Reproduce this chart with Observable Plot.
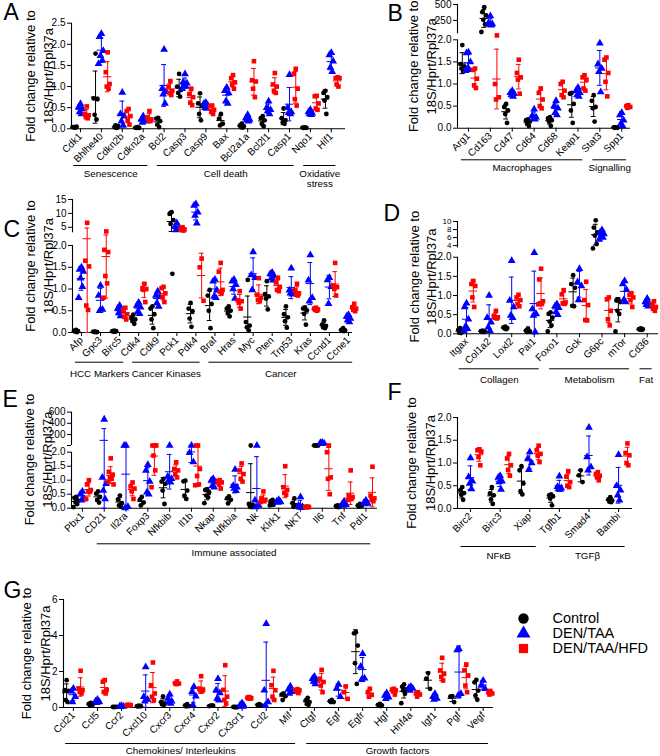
<!DOCTYPE html>
<html><head><meta charset="utf-8">
<script src="https://cdn.jsdelivr.net/npm/d3@7"></script>
<script src="https://cdn.jsdelivr.net/npm/@observablehq/plot@0.6"></script>
<style>
html,body{margin:0;padding:0;background:#fff;}
#chart{position:relative;width:660px;height:756px;overflow:hidden;font-family:Arial,"Liberation Sans",Helvetica,sans-serif;}
#chart svg{position:absolute;}
</style></head><body><div id="chart"></div>
<script>
// ---------- Panel A ----------
const genesA = ["Cdk1","Bhlhe40","Cdkn2b","Cdkn2a","Bcl2","Casp3","Casp9","Bax","Bcl2a1a","Bcl2l1","Casp1","Nqo1","Hif1"];
const ctrlA = [[0.03,0.04,0.05,0.04,0.03],[1.78,0.72,0.70,0.33,0.22],[0.02,0.04,0.06,0.08,0.03],[0.04,0.03,0.02,0.02,0.03],[0.26,0.24,0.18,0.10,0.04],[1.30,1.00,0.92,0.85,0.76],[0.84,0.60,0.55,0.35,0.20],[0.35,0.24,0.12,0.08],[0.12,0.08,0.06,0.04,0.03],[0.30,0.25,0.20,0.12,0.06],[0.48,0.25,0.20,0.15,0.12],[0.03,0.03,0.02,0.02,0.03],[0.90,0.85,0.75,0.67,0.35]];
const denA = [[0.59,0.51,0.47,0.40,0.35],[2.25,2.18,1.85,1.73,1.62,1.54],[0.86,0.35,0.30,0.18,0.08],[0.30,0.22,0.18,0.15,0.20],[1.88,0.95,0.88,0.82,0.60],[1.30,1.10,1.08,1.05,1.00,0.95],[0.62,0.60,0.55,0.50,0.48],[0.98,0.90,0.85,0.65,0.60],[0.33,0.25,0.22,0.20,0.18],[0.65,0.50,0.45,0.42,0.35],[1.28,0.50,0.40,0.38,0.35],[0.45,0.40,0.37,0.35,0.33],[1.80,1.75,1.60,1.45,1.35]];
const hfdA = [[0.53,0.35,0.32,0.28,0.25],[1.81,1.34,1.06,1.00,0.95],[0.47,0.42,0.30,0.20,0.10],[0.42,0.27,0.22,0.20,0.18],[1.13,1.00,0.90,0.85,0.80],[0.95,0.82,0.75,0.62,0.56],[0.55,0.54,0.45,0.40,0.35],[1.27,1.20,1.10,1.05,0.95],[1.60,1.15,1.12,0.95,0.75],[1.32,1.05,1.00,0.90,0.85],[1.42,1.30,0.95,0.70,0.55],[0.78,0.77,0.60,0.48,0.45],[1.22,1.20,1.20,1.05,1.00]];
const ticksA = [0,0.5,1,1.5,2,2.5];
const tickLabelsA = ["0.0","0.5","1.0","1.5","2.0","2.5"];
const groupsA = [{label:"Senescence",from:"Cdk1",to:"Cdkn2a"},{label:"Cell death",from:"Bcl2",to:"Casp1"},{label:"Oxidative\nstress",from:"Nqo1",to:"Hif1"}];

// ---------- Panel B ----------
const genesB = ["Arg1","Cd163","Cd47","Cd64","Cd68","Keap1","Stat3","Spp1"];
const ctrlB = [[1.88,1.45,1.40,1.35,1.28],[458,380,328,260,188,68],[0.55,0.48,0.40,0.32,0.12],[0.20,0.18,0.15,0.10,0.05],[0.25,0.22,0.18,0.15,0.05],[0.80,0.78,0.55,0.40,0.12],[0.75,0.62,0.48,0.45,0.15],[0.02,0.02,0.01,0.01]];
const denB = [[1.72,1.70,1.50,1.35,1.32,1.30],[320,210,195,185,175],[0.85,0.80,0.78,0.75,0.72],[0.43,0.28,0.25,0.22,0.20],[0.62,0.50,0.45,0.35,0.30],[0.92,0.85,0.80,0.75,0.72],[1.92,1.45,1.35,1.28,0.82],[0.35,0.30,0.18,0.10,0.05]];
const hfdB = [[1.35,1.32,1.12,0.97,0.91],[2.1,1.00,0.70,0.65],[1.55,1.25,1.15,1.10,0.78],[0.90,0.80,0.65,0.50,0.45],[1.05,1.00,0.85,0.75,0.70],[1.20,1.15,1.10,0.90,0.85],[1.60,1.55,1.25,1.05,0.72],[0.52,0.50,0.48,0.46]];
const ticksB = [0,0.5,1,1.5,2,250,500];
const tickLabelsB = ["0.0","0.5","1.0","1.5","2.0","250","500"];
const groupsB = [{label:"Macrophages",from:"Arg1",to:"Keap1"},{label:"Signalling",from:"Stat3",to:"Spp1"}];

// ---------- Panel C ----------
const genesC = ["Afp","Gpc3","Birc5","Cdk4","Cdk9","Pck1","Pdk4","Braf","Hras","Myc","Pten","Trp53","Kras","Ccnd1","Ccne1"];
const ctrlC = [[0.06,0.04,0.03,0.02,0.01],[0.02,0.02,0.01,0.01,0.01],[0.04,0.03,0.03,0.02,0.02],[0.41,0.35,0.30,0.27,0.20],[0.60,0.55,0.42,0.30,0.10],[10.4,9.8,7.6,6.2,1.35],[0.68,0.55,0.49,0.32,0.13],[0.98,0.85,0.66,0.50,0.10],[0.60,0.55,0.50,0.45,0.37],[1.21,0.24,0.16,0.12,0.05],[1.18,0.88,0.83,0.78,0.53],[0.60,0.42,0.35,0.26,0.11],[0.57,0.55,0.51,0.43,0.18],[0.28,0.18,0.15,0.12,0.10],[0.10,0.06,0.05,0.04,0.03]];
const denC = [[1.50,1.45,1.40,1.25,1.05,0.80],[1.08,0.85,0.53,0.50],[0.62,0.55,0.50,0.45,0.38],[0.69,0.62,0.58,0.48,0.43],[0.95,0.85,0.82,0.68,0.60],[6.5,5.2,4.6,4.0],[13.4,12.8,10.4,9.2,6.4],[1.22,1.18,0.97,0.83,0.80],[1.22,1.18,1.10,1.00,0.78],[1.85,1.32,1.26,0.98],[1.38,1.35,1.30,1.25,1.20],[1.48,0.97,0.93,0.90,0.88],[1.78,1.20,0.80,0.72],[1.26,1.21,1.05,0.66],[0.41,0.37,0.32,0.28,0.24]];
const hfdC = [[6.6,1.65,1.52,0.62,0.52],[3.5,1.90,1.85,1.30,1.13,0.80],[0.57,0.51,0.42,0.36,0.30],[1.12,1.02,1.00,0.98,0.70],[1.05,1.02,0.90,0.82,0.70],[5.0,4.5,4.2,4.0,3.8],[1.70,1.50,0.73],[1.60,1.40,0.98,0.94,0.90],[0.95,0.74,0.72,0.68,0.55],[1.25,0.87,0.80,0.75,0.72],[1.26,1.15,1.05,0.98,0.95],[1.12,0.97,0.90,0.87,0.85],[0.57,0.55,0.53,0.52,0.50],[1.60,1.08,1.04,1.00,0.85],[0.66,0.58,0.55,0.52,0.49]];
const ticksC = [0,0.5,1,1.5,2,5,10,15];
const tickLabelsC = ["0.0","0.5","1.0","1.5","2.0","5","10","15"];
const groupsC = [{label:"HCC Markers",from:"Afp",to:"Birc5"},{label:"Cancer Kinases",from:"Cdk4",to:"Pdk4"},{label:"Cancer",from:"Braf",to:"Ccne1"}];

// ---------- Panel D ----------
const genesD = ["Itgax","Col1a2","Loxl2","Pai1","Foxo1","Gck","G6pc","mTor","Cd36"];
const ctrlD = [[0.15,0.10,0.05,0.03,0.02],[0.08,0.07,0.06,0.05,0.05],[0.19,0.17,0.15,0.14,0.12],[0.14,0.08,0.06,0.05],[0.56,0.52,0.42,0.32,0.22,0.06],[1.53,1.30,1.20,0.73,0.72],[10.3,8.5,7.3,6.5,4.4,3.3],[0.90,0.87,0.83,0.60,0.52,0.06],[0.14,0.12,0.12,0.11,0.10]];
const denD = [[0.80,0.70,0.38,0.20,0.13,0.08],[1.00,0.42,0.30,0.17,0.08],[1.91,0.87,0.70,0.48,0.42],[2.25,0.65,0.52,0.48,0.05],[0.78,0.72,0.68,0.57,0.50],[1.70,1.35,1.25,0.88],[7.9,7.3,6.9,6.5,6.0,5.5],[1.38,1.30,1.15,0.88,0.83],[0.92,0.83,0.78,0.76,0.72]];
const hfdD = [[1.38,1.30,1.25,0.95,0.70],[0.60,0.47,0.43,0.42,0.40],[1.02,0.95,0.88,0.78,0.72],[1.70,1.42,0.85,0.80,0.78,0.77],[1.14,1.03,0.82,0.80,0.78],[1.36,0.88,0.75,0.36,0.35],[0.95,0.90,0.60,0.38,0.22],[1.06,1.02,0.95,0.88,0.70],[0.85,0.78,0.70,0.65,0.60]];
const ticksD = [0,0.5,1,1.5,2,4,6,8,10];
const tickLabelsD = ["0.0","0.5","1.0","1.5","2.0","4","6","8","10"];
const groupsD = [{label:"Collagen",from:"Itgax",to:"Pai1"},{label:"Metabolism",from:"Foxo1",to:"mTor"},{label:"Fat",from:"Cd36",to:"Cd36"}];

// ---------- Panel E ----------
const genesE = ["Pbx1","CD21","Il2ra","Foxp3","Nfkbib","Il1b","Nkap","Nfkbia","Nk","Klrk1","NKT","Il6","Tnf","Pdl1"];
const ctrlE = [[0.40,0.37,0.27,0.22,0.15,0.04],[0.60,0.52,0.40,0.30,0.20],[0.45,0.31,0.18,0.10,0.06],[0.40,0.30,0.20,0.10],[1.05,0.95,0.87,0.63,0.15],[0.98,0.96,0.63,0.45,0.33],[0.68,0.65,0.57,0.45,0.39,0.18],[0.42,0.35,0.30,0.17],[2.4,0.15,0.12,0.08,0.04],[0.30,0.25,0.20,0.15,0.12,0.10],[0.35,0.18,0.10,0.05],[2.4,2.4,2.4],[0.10,0.08,0.06,0.05,0.04],[0.15,0.10,0.08,0.06,0.08]];
const denE = [[0.60,0.52,0.33,0.28],[470,1.10,0.87,0.63,0.33],[2.4,2.4,0.05,0.01],[1.55,1.35,0.95,0.57,0.50],[2.4,1.13,1.05,1.00,0.93],[2.4,1.98,1.65],[1.05,1.00,0.93,0.80,0.75],[1.38,0.80,0.75,0.70,0.62],[2.4,0.28,0.10,0.04],[0.30,0.25,0.22,0.20],[0.40,0.10,0.05,0.03,0.02],[55,50,40,35],[0.25,0.15,0.12,0.10],[0.28,0.20,0.17,0.15]];
const hfdE = [[1.00,0.85,0.65,0.60,0.58,0.33],[1.78,1.30,1.20,1.10,1.05,0.95,0.85],[0.92,0.78,0.70,0.60,0.33],[2.4,2.4,2.4,1.88,1.35,0.75],[1.64,1.40,1.35,1.22,1.10],[2.4,2.4,1.40,1.15,0.85,0.82],[1.00,0.98,0.92,0.87,0.70],[1.60,1.35,1.22,1.05,0.95],[0.60,0.35,0.30,0.28,0.25,0.22],[1.50,0.75,0.65,0.55,0.48],[0.06,0.05,0.04,0.03,0.04],[2.4,2.0,1.10,1.05,0.50],[1.35,0.45,0.40,0.38,0.33,0.30],[1.48,0.45,0.35,0.30,0.25]];
const ticksE = [0,0.5,1,1.5,2,2.3,200,400,600];
const tickLabelsE = ["0.0","0.5","1.0","1.5","2.0","","200","400","600"];
const groupsE = [{label:"Immune associated",from:"CD21",to:"Pdl1"}];

// ---------- Panel F ----------
const genesF = ["Birc2","Birc3","Xiap","Tgfb1","Smad4","Bambi"];
const ctrlF = [[0.47,0.40,0.34,0.30,0.19],[0.47,0.33,0.29,0.20,0.10],[0.93,0.84,0.55,0.38,0.31],[0.31,0.29,0.27,0.22,0.07],[0.84,0.73,0.58],[0.25,0.20,0.18,0.15,0.14]];
const denF = [[1.11,0.69,0.60,0.55,0.43],[0.72,0.68,0.60,0.58,0.42],[1.24,1.10,1.00,0.85],[0.71,0.48,0.45,0.43,0.42],[1.78,1.13,0.91,0.84],[1.18,0.50,0.40,0.29,0.18]];
const hfdF = [[1.30,1.28,1.25,1.13,0.95],[1.20,1.10,0.95,0.85,0.72],[1.38,1.28,1.20,1.16,1.02],[0.82,0.70,0.58,0.50,0.47],[0.80,0.76,0.72,0.69,0.62],[1.43,1.22,1.17,1.00,0.95]];
const ticksF = [0,0.5,1,1.5,2];
const tickLabelsF = ["0.0","0.5","1.0","1.5","2.0"];
const groupsF = [{label:"NFκB",from:"Birc2",to:"Xiap"},{label:"TGFβ",from:"Tgfb1",to:"Bambi"}];

// ---------- Panel G ----------
const genesG = ["Ccl21","Ccl5","Ccr2","Cxcl10","Cxcr3","Cxcr4","Cxcr2","Cx3cr1","Ccl2","Mif","Ctgf","Egf","Egfr","Hgf","Hnf4a","Igf1","Pgf","Vegf"];
const ctrlG = [[1.52,0.96,0.92,0.41,0.30],[0.26,0.20,0.15,0.12],[0.04,0.03,0.03,0.02],[0.10,0.08,0.07,0.06],[0.62,0.30,0.22,0.18,0.15],[0.18,0.12,0.08,0.06],[0.12,0.08,0.10],[0.03,0.03,0.02,0.02,0.02],[0.18,0.15,0.12,0.12],[0.78,0.72,0.63,0.41],[0.54,0.40,0.30,0.20,0.15],[0.42,0.35,0.30,0.30],[4.18,4.12,3.44,2.46,1.31],[0.20,0.15,0.12,0.10,0.08],[1.28,1.15,1.00,0.94,0.76,0.24],[1.91,1.60,1.04],[0.63,0.60,0.30],[1.54,1.40,0.94,0.67,0.43]];
const denG = [[1.05,0.90,0.60,0.30],[0.44,0.35,0.30,0.26],[0.10,0.07,0.05,0.04],[2.25,0.60,0.45,0.35],[0.74,0.50,0.35,0.30,0.22],[1.15,0.87,0.63,0.13],[1.60,0.96,0.80,0.50,0.40],[0.25,0.15,0.10,0.07,0.05],[4.65,0.96,0.30,0.13],[1.18,1.00,0.87,0.78],[1.72,1.60,1.50,1.45,1.30],[1.28,1.05,0.60],[2.98,2.28,1.62,1.55],[0.80,0.67,0.57,0.48],[1.17,1.10,1.05,0.94],[0.76,0.60,0.50,0.45],[3.25,3.20,0.76,0.67],[1.50,1.22,1.04]];
const hfdG = [[2.04,1.05,0.96,0.87,0.78],[1.52,1.43,0.96,0.87,0.78],[0.15,0.14,0.13,0.12,0.12],[2.50,1.24,0.78,0.60,0.40],[1.45,1.35,1.33,1.30],[1.74,1.05,0.98,0.95,0.90],[2.35,0.98,0.60,0.42,0.22],[0.58,0.55,0.52,0.50,0.50],[2.04,1.24,0.96,0.60,0.42],[1.02,0.98,0.95,0.87,0.80],[2.09,1.60,1.42,1.22,0.85],[1.17,0.85,0.48],[1.04,0.85,0.70,0.60],[1.04,1.00,0.95,0.90,0.72],[0.85,0.78,0.72,0.60],[2.76,2.06,1.87,1.70,1.50],[2.39,2.06,1.78,1.22,0.85],[0.92,0.85,0.78,0.72]];
const ticksG = [0,2,4,6];
const tickLabelsG = ["0","2","4","6"];
const groupsG = [{label:"Chemokines/ Interleukins",from:"Ccl21",to:"Mif"},{label:"Growth factors",from:"Ctgf",to:"Vegf"}];

// ---------- series / legend ----------
const seriesNames = ["Control","DEN/TAA","DEN/TAA/HFD"];
const seriesColors = ["#000000","#0000ff","#ff0000"];
const seriesSymbols = ["circle","triangle","square"];
const titleLines = ["Fold change relative to","18S/Hprt/Rpl37a"];

const OFFS = [-0.28, 0, 0.30];          // group offset within a gene band
const RAD = [2.4, 2.9, 2.6];
const JIT = [0, -1.9, 1.9, -0.9, 0.9, -2.8, 2.8]; // px spread inside a cluster
const FONT = 'Arial, "Liberation Sans", Helvetica, sans-serif';
const root = document.getElementById("chart");

function panel(p) {
  const n = p.genes.length;
  const innerW = p.width - p.mL - p.mR;
  const step = innerW / (p.xDomain[1] - p.xDomain[0]);
  // (possibly broken) value axis: d3 piecewise linear scale to pixel rows; Plot y scale is then identity
  const yr = p.yRange || [p.height - p.mB, p.mT];
  const fwd = d3.scaleLinear().domain(p.yDomain).range(yr);
  const yBot = yr[0], yTop = yr[yr.length - 1];
  const pts = [], stats = [];
  [p.ctrl, p.den, p.hfd].forEach((arr, gi) => {
    arr.forEach((vals, i) => {
      const xc = i + OFFS[gi];
      vals.forEach((v, k) => pts.push({gi, x: xc + JIT[k % JIT.length] / step, y: fwd(v)}));
      const m = d3.mean(vals), sd = vals.length > 1 ? d3.deviation(vals) : 0;
      stats.push({gi, xc, m: fwd(m), lo: fwd(Math.max(0, m - sd)), hi: fwd(m + sd)});
    });
  });
  const idx = g => p.genes.indexOf(g);
  const capH = 2.4 / step, meanH = 4.2 / step;
  const gx1 = g => idx(g.from) - 0.32, gx2 = g => idx(g.to) + 0.22;
  const tickPos = p.yTicks.map(t => fwd(t));
  const small = p.smallFrom != null ? p.yTicks.map((t, i) => ({t, y: tickPos[i], label: p.yLabels[i]})).filter(d => d.t >= p.smallFrom) : [];
  const axisLabel = d => {
    const i = tickPos.indexOf(d);
    return (p.smallFrom != null && p.yTicks[i] >= p.smallFrom) ? "" : p.yLabels[i];
  };
  const y0 = fwd(0);
  const marks = [
    Plot.ruleY([y0], {stroke: "#000", strokeWidth: 1.1}),
    Plot.ruleX(p.ySegs, {x: () => p.xDomain[0], y1: s => fwd(s[0]), y2: s => fwd(s[1]), stroke: "#000", strokeWidth: 1.1}),
    Plot.ruleY(p.groups, {y: () => y0, x1: gx1, x2: gx2, dy: p.lineDy, stroke: "#000", strokeWidth: 1}),
    Plot.text(p.groups, {x: g => (gx1(g) + gx2(g)) / 2, y: () => y0, text: "label", dy: p.textDy, lineAnchor: "top", fontSize: 9.8, lineHeight: 1.05}),
    Plot.text(small, {x: () => p.xDomain[0], y: "y", text: "label", dx: -6, textAnchor: "end", fontSize: 8})
  ];
  for (let gi = 0; gi < 3; gi++) {
    const st = stats.filter(s => s.gi === gi);
    marks.push(
      Plot.dot(pts.filter(d => d.gi === gi), {x: "x", y: "y", symbol: seriesSymbols[gi], fill: seriesColors[gi], r: RAD[gi]}),
      Plot.ruleX(st, {x: "xc", y1: "lo", y2: "hi", stroke: seriesColors[gi], strokeWidth: 1}),
      Plot.ruleY(st, {y: "m", x1: s => s.xc - meanH, x2: s => s.xc + meanH, stroke: seriesColors[gi], strokeWidth: 1}),
      Plot.ruleY(st, {y: "hi", x1: s => s.xc - capH, x2: s => s.xc + capH, stroke: seriesColors[gi], strokeWidth: 1}),
      Plot.ruleY(st, {y: "lo", x1: s => s.xc - capH, x2: s => s.xc + capH, stroke: seriesColors[gi], strokeWidth: 1})
    );
  }
  marks.push(
    Plot.text([p.letter], {text: d => d, frameAnchor: "top-left", dx: p.letterXY[0] - p.left - p.mL, dy: p.letterXY[1] - p.top - p.mT, textAnchor: "start", lineAnchor: "top", fontSize: 23}),
    Plot.text([titleLines[0]], {text: d => d, frameAnchor: "left", rotate: -90, dx: p.titleX[0] - p.left - p.mL, textAnchor: "middle", lineAnchor: "middle", fontSize: 13}),
    Plot.text([titleLines[1]], {text: d => d, frameAnchor: "left", rotate: -90, dx: p.titleX[1] - p.left - p.mL, textAnchor: "middle", lineAnchor: "middle", fontSize: 13})
  );
  const svg = Plot.plot({
    width: p.width, height: p.height,
    marginLeft: p.mL, marginRight: p.mR, marginTop: p.mT, marginBottom: p.mB,
    style: {fontFamily: FONT, fontSize: "10px", color: "#000", background: "none", overflow: "visible"},
    x: {domain: p.xDomain, ticks: d3.range(n), tickFormat: i => p.genes[i], tickRotate: -45, tickSize: 4, tickPadding: 2, label: null},
    y: {domain: [yBot, yTop], range: [yBot, yTop], ticks: tickPos, tickFormat: axisLabel, tickSize: 4, tickPadding: 2, label: null},
    marks
  });
  svg.style.left = p.left + "px";
  svg.style.top = p.top + "px";
  root.appendChild(svg);
}

panel({genes: genesA, ctrl: ctrlA, den: denA, hfd: hfdA, groups: groupsA, letter: "A",
  left: 0, top: 0, width: 360, height: 195, mL: 71, mR: 15, mT: 22.7, mB: 66.7,
  xDomain: [-0.43, 12.68], yDomain: [0, 2.5], yTicks: ticksA, yLabels: tickLabelsA, ySegs: [[0, 2.5]],
  letterXY: [3, 3], titleX: [30, 48], lineDy: 36.7, textDy: 41});

panel({genes: genesB, ctrl: ctrlB, den: denB, hfd: hfdB, groups: groupsB, letter: "B",
  left: 340, top: 0, width: 320, height: 195, mL: 117, mR: 30, mT: 4, mB: 67.3,
  xDomain: [-0.5, 7.4], yDomain: [0, 2.1, 40, 500], yRange: [127.7, 34.9, 33.3, 4],
  yTicks: ticksB, yLabels: tickLabelsB, ySegs: [[0, 2], [40, 500]],
  letterXY: [387, 4], titleX: [413, 431], lineDy: 31.6, textDy: 35.4});

panel({genes: genesC, ctrl: ctrlC, den: denC, hfd: hfdC, groups: groupsC, letter: "C",
  left: 0, top: 195, width: 360, height: 195, mL: 72, mR: 8, mT: 4, mB: 58,
  xDomain: [-0.47, 14.21], yDomain: [0, 2.15, 3, 15], yRange: [137, 43.5, 37.3, 4],
  yTicks: ticksC, yLabels: tickLabelsC, ySegs: [[0, 2], [3, 15]],
  letterXY: [3, 220], titleX: [30, 48], lineDy: 29.7, textDy: 37});

panel({genes: genesD, ctrl: ctrlD, den: denD, hfd: hfdD, groups: groupsD, letter: "D",
  left: 340, top: 195, width: 320, height: 195, mL: 117, mR: 2, mT: 24, mB: 56.7,
  xDomain: [-0.4, 8.5], yDomain: [0, 2.1, 3.2, 10.5], yRange: [138.3, 57.9, 53.3, 24],
  yTicks: ticksD, yLabels: tickLabelsD, smallFrom: 4, ySegs: [[0, 2], [3.4, 10]],
  letterXY: [383, 204], titleX: [414, 431], lineDy: 35, textDy: 42});

panel({genes: genesE, ctrl: ctrlE, den: denE, hfd: hfdE, groups: groupsE, letter: "E",
  left: 0, top: 390, width: 380, height: 175, mL: 71, mR: 3, mT: 20.5, mB: 57.3,
  xDomain: [-0.5, 13.53], yDomain: [0, 2.15, 2.3, 620], yRange: [117.7, 57.5, 55, 20.5],
  yTicks: ticksE, yLabels: tickLabelsE, ySegs: [[0, 2], [2.3, 600]],
  letterXY: [2, 390], titleX: [29, 47], lineDy: 35.6, textDy: 40.4});

panel({genes: genesF, ctrl: ctrlF, den: denF, hfd: hfdF, groups: groupsF, letter: "F",
  left: 340, top: 380, width: 320, height: 185, mL: 117, mR: 28, mT: 37, mB: 57,
  xDomain: [-0.44, 5.47], yDomain: [0, 2], yTicks: ticksF, yLabels: tickLabelsF, ySegs: [[0, 2]],
  letterXY: [387, 383], titleX: [411, 430], lineDy: 38, textDy: 43.4});

panel({genes: genesG, ctrl: ctrlG, den: denG, hfd: hfdG, groups: groupsG, letter: "G",
  left: 0, top: 575, width: 500, height: 181, mL: 63, mR: 7, mT: 24, mB: 49,
  xDomain: [-0.41, 17.43], yDomain: [0, 6], yTicks: ticksG, yLabels: tickLabelsG, ySegs: [[0, 6]],
  letterXY: [3, 581], titleX: [26, 45], lineDy: 36, textDy: 39.5});

// legend
const legendData = seriesNames.map((name, i) => ({name, i}));
const leg = Plot.plot({
  width: 160, height: 80, marginLeft: 0, marginRight: 0, marginTop: 0, marginBottom: 0,
  style: {fontFamily: FONT, fontSize: "14.5px", color: "#000", background: "none", overflow: "visible"},
  x: {domain: [0, 1], axis: null},
  y: {type: "point", domain: seriesNames, range: [19.3, 65.7], axis: null},
  marks: [
    ...legendData.map(d => Plot.dot([d], {y: "name", frameAnchor: "left", dx: 23, symbol: seriesSymbols[d.i], fill: seriesColors[d.i], r: 5.2})),
    Plot.text(legendData, {y: "name", text: "name", frameAnchor: "left", dx: 52, textAnchor: "start", fontSize: 14.5})
  ]
});
leg.style.left = "500px"; leg.style.top = "590px";
root.appendChild(leg);
</script>
</body></html>
